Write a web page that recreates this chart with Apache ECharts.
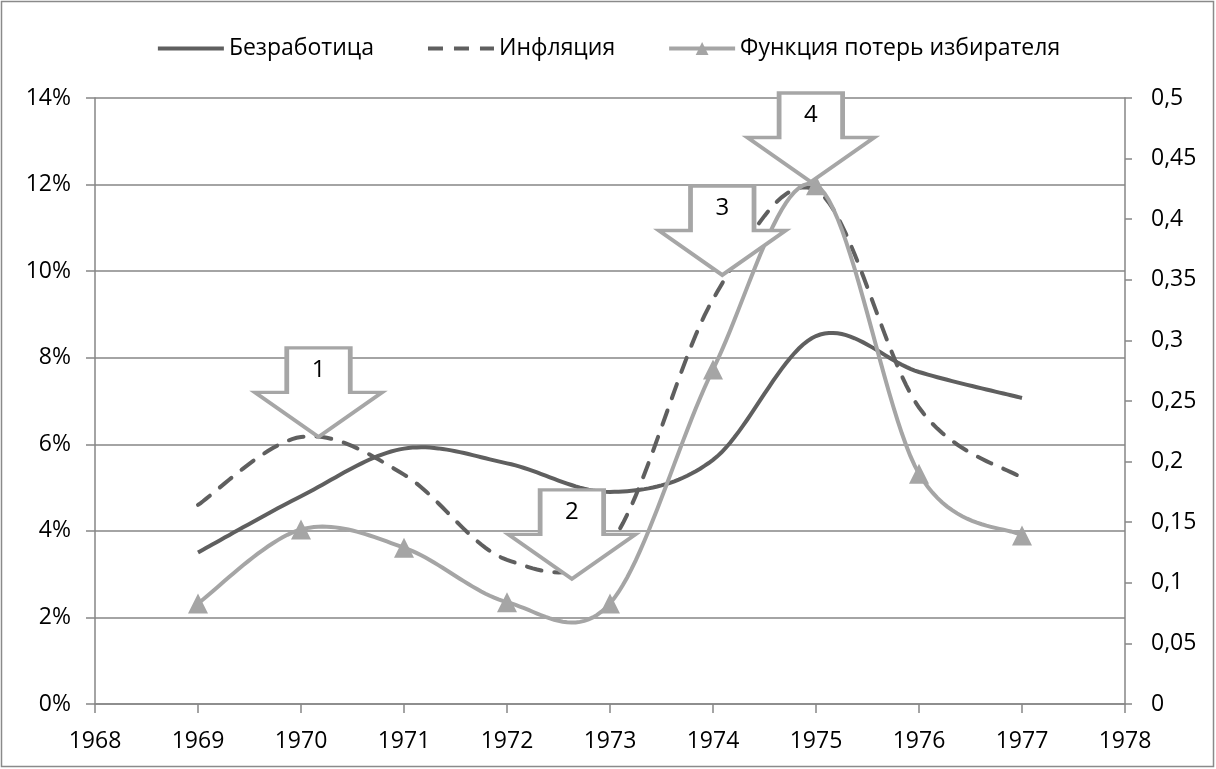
<!DOCTYPE html>
<html>
<head>
<meta charset="utf-8" />
<style>
  html, body { margin: 0; padding: 0; background: #fff; }
  #main { width: 1216px; height: 769px; }
</style>
</head>
<body>
<div id="main"></div>
<script src="https://cdn.jsdelivr.net/npm/echarts@6/dist/echarts.min.js"></script>
<script>
// values
var years = [1969, 1970, 1971, 1972, 1973, 1974, 1975, 1976, 1977];
var unemployment = [3.5, 4.8, 5.9, 5.56, 4.9, 5.64, 8.5, 7.67, 7.07];      // %
var inflation = [4.6, 6.17, 5.3, 3.33, 3.7, 9.35, 11.87, 6.85, 5.22];      // %
var voterLoss = [0.083, 0.144, 0.129, 0.084, 0.083, 0.276, 0.428, 0.19, 0.139];
var seriesNames = ['Безработица', 'Инфляция', 'Функция потерь избирателя'];

// annotation arrows: tip position [year, %] and number
var arrowTips = [[1970.17, 6.17], [1972.63, 2.89], [1974.09, 9.91], [1974.95, 12.06]];
var arrowLabels = ['1', '2', '3', '4'];

function pairs(xs, ys) {
  return xs.map(function (x, i) { return [x, ys[i]]; });
}

var font = "'Open Sans', sans-serif";
var axisGray = '#868686';
var dark = '#5f5f5f';
var light = '#a5a5a5';

// spreadsheet-style smoothing (catmull-rom bezier through the points)
function curveSeries(xs, ys, yAxisIndex, style, z) {
  return {
    type: 'custom',
    name: '_curve' + z + yAxisIndex,
    coordinateSystem: 'cartesian2d',
    yAxisIndex: yAxisIndex,
    data: pairs(xs, ys),
    silent: true,
    z: z,
    renderItem: function (params, api) {
      if (params.dataIndex !== 0) return null;
      var p = xs.map(function (x, i) { return api.coord([x, ys[i]]); });
      var pts = [p[0]];
      var n = p.length;
      for (var i = 0; i < n - 1; i++) {
        var p0 = p[Math.max(i - 1, 0)], p1 = p[i], p2 = p[i + 1], p3 = p[Math.min(i + 2, n - 1)];
        var c1 = [p1[0] + (p2[0] - p0[0]) / 6, p1[1] + (p2[1] - p0[1]) / 6];
        var c2 = [p2[0] - (p3[0] - p1[0]) / 6, p2[1] - (p3[1] - p1[1]) / 6];
        for (var s = 1; s <= 24; s++) {
          var t = s / 24, u = 1 - t;
          pts.push([
            u * u * u * p1[0] + 3 * u * u * t * c1[0] + 3 * u * t * t * c2[0] + t * t * t * p2[0],
            u * u * u * p1[1] + 3 * u * u * t * c1[1] + 3 * u * t * t * c2[1] + t * t * t * p2[1]
          ]);
        }
      }
      return {
        type: 'polyline',
        shape: { points: pts },
        style: style
      };
    }
  };
}

var chart = echarts.init(document.getElementById('main'));
var option = {
  backgroundColor: '#fff',
  animation: false,
  textStyle: { fontFamily: font },
  graphic: [{
    type: 'rect',
    shape: { x: 1.5, y: 1.5, width: 1212, height: 765 },
    style: { fill: 'none', stroke: '#8a8a8a', lineWidth: 1.5 },
    silent: true
  }],
  legend: {
    data: [
      { name: seriesNames[0], itemStyle: { opacity: 0 }, lineStyle: { opacity: 1, width: 4 } },
      { name: seriesNames[1], itemStyle: { opacity: 0 }, lineStyle: { opacity: 1, width: 4 } },
      { name: seriesNames[2], lineStyle: { opacity: 1, width: 4 } }
    ],
    top: 32,
    left: 'center',
    itemWidth: 66,
    itemHeight: 16,
    itemGap: 52,
    textStyle: { fontFamily: font, fontSize: 23, color: '#000' }
  },
  grid: { left: 95, right: 91, top: 98, bottom: 65 },
  xAxis: {
    type: 'value',
    min: 1968,
    max: 1978,
    interval: 1,
    axisLine: { show: true, lineStyle: { color: axisGray, width: 1.5 } },
    axisTick: { show: true, length: 9, lineStyle: { color: axisGray, width: 1.5 } },
    splitLine: { show: false },
    axisLabel: {
      margin: 26,
      fontSize: 23,
      color: '#000',
      fontFamily: font,
      formatter: function (v) { return String(v); }
    }
  },
  yAxis: [{
    type: 'value',
    min: 0,
    max: 14,
    interval: 2,
    axisLine: { show: true, lineStyle: { color: axisGray, width: 1.5 } },
    axisTick: { show: true, length: 9, lineStyle: { color: axisGray, width: 1.5 } },
    splitLine: { show: true, lineStyle: { color: axisGray, width: 1.5 } },
    axisLabel: { margin: 24, fontSize: 23, color: '#000', fontFamily: font, formatter: '{value}%' }
  }, {
    type: 'value',
    min: 0,
    max: 0.5,
    interval: 0.05,
    position: 'right',
    axisLine: { show: true, lineStyle: { color: axisGray, width: 1.5 } },
    axisTick: { show: true, length: 7, lineStyle: { color: axisGray, width: 1.5 } },
    splitLine: { show: false },
    axisLabel: {
      margin: 26,
      fontSize: 23,
      color: '#000',
      fontFamily: font,
      formatter: function (v) { return String(+v.toFixed(2)).replace('.', ','); }
    }
  }],
  series: [
    curveSeries(years, unemployment, 0, { stroke: dark, lineWidth: 4, fill: null }, 2),
    curveSeries(years, inflation, 0, { stroke: dark, lineWidth: 4, fill: null, lineDash: [15, 13], lineCap: 'round' }, 2),
    curveSeries(years, voterLoss, 1, { stroke: light, lineWidth: 4, fill: null }, 3),
    {
      name: seriesNames[0],
      type: 'line',
      data: pairs(years, unemployment),
      symbol: 'none',
      color: dark,
      lineStyle: { color: dark, width: 0, opacity: 0 },
      z: 1
    },
    {
      name: seriesNames[1],
      type: 'line',
      data: pairs(years, inflation),
      symbol: 'none',
      color: dark,
      lineStyle: { color: dark, width: 0, opacity: 0, type: [15, 11] },
      z: 6,
      markPoint: {
        silent: true,
        symbol: 'path://M25,0L75,0L75,50L100,50L50,100L0,50L25,50Z',
        symbolSize: [127, 89],
        symbolOffset: [0, '-50%'],
        itemStyle: { color: '#fff', borderColor: '#a6a6a6', borderWidth: 4 },
        label: {
          show: true,
          position: 'inside',
          offset: [0, -22],
          formatter: '{b}',
          fontFamily: font,
          fontSize: 24,
          color: '#000'
        },
        data: arrowTips.map(function (t, i) { return { name: arrowLabels[i], coord: t }; })
      }
    },
    {
      name: seriesNames[2],
      type: 'line',
      yAxisIndex: 1,
      data: pairs(years, voterLoss),
      symbol: 'triangle',
      symbolSize: [20, 20],
      color: light,
      itemStyle: { color: light },
      lineStyle: { color: light, width: 0, opacity: 0 },
      z: 4
    }
  ]
};
chart.setOption(option);
</script>
</body>
</html>
